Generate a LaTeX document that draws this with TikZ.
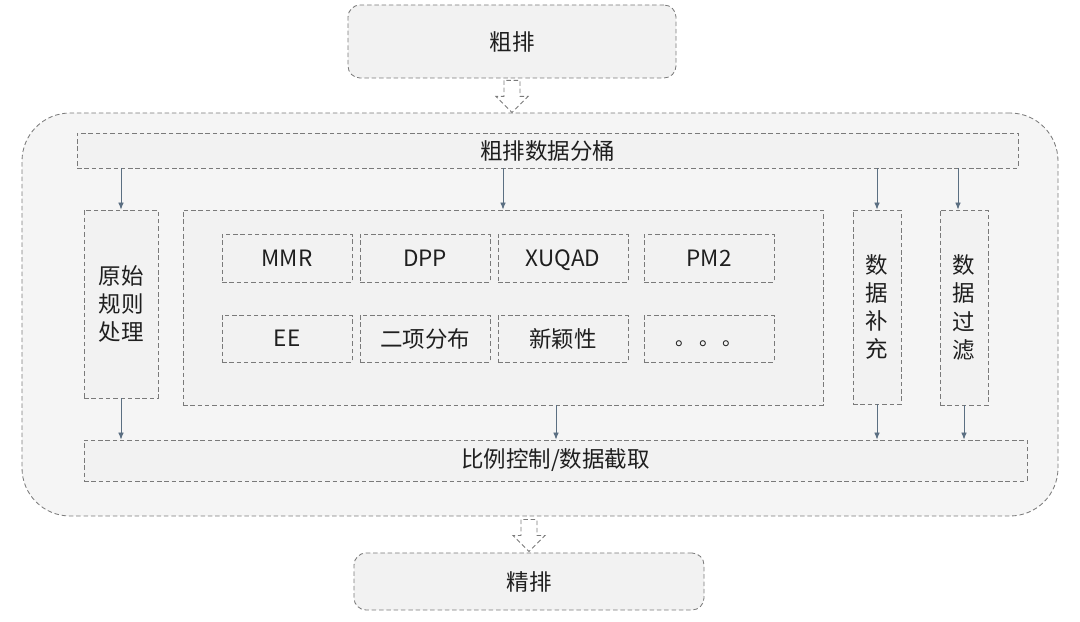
\documentclass[tikz,border=0pt]{standalone}
\usepackage{fontspec}
\setmainfont{Noto Sans CJK SC}
\usetikzlibrary{fit,calc,arrows.meta}
\definecolor{edge}{HTML}{7A7A7A}
\definecolor{boxfill}{HTML}{F2F2F2}
\definecolor{bigfill}{HTML}{F5F5F5}
\definecolor{arr}{HTML}{5B6F82}
\definecolor{txt}{HTML}{1F1F1F}
\begin{document}
\begin{tikzpicture}[x=0.025cm,y=-0.025cm,
  dline/.style={draw=edge, line width=0.6pt, dash pattern=on 3.2pt off 2pt},
  box/.style={dline, fill=boxfill, inner sep=0pt},
  lab/.style={text=txt, align=center, inner sep=0pt, font=\fontsize{16}{20}\selectfont},
  rbox/.style={box, rounded corners=0.3cm},
  conn/.style={draw=arr, line width=0.6pt, -{Latex[length=5pt,width=4pt]}},
  hollow/.style={dline, fill=white, line join=miter}]
\useasboundingbox (0,0) rectangle (1080,622);
% outer container
\node[dline, fill=bigfill, rounded corners=1.2cm, inner sep=0pt, fit={(22,113)(1058,516)}] (outer) {};
% top and bottom stages
\node[rbox, fit={(348,5)(676,78)}, label={[lab]center:粗排}] (coarse) {};
\node[rbox, fit={(354,553)(704,610)}, label={[lab]center:精排}] (fine) {};
% bars
\node[box, fit={(77,133)(1018,168)}, label={[lab]center:粗排数据分桶}] (bucket) {};
\node[box, fit={(84,440)(1027,481)}, label={[lab]center:比例控制/数据截取}] (ratio) {};
% columns
\node[box, fit={(84,210)(158,398)}, label={[lab]center:原始\\规则\\处理}] (rule) {};
\node[box, fit={(183,210)(823,405)}] (mid) {};
\node[box, fit={(853,210)(901,404)}, label={[lab]center:数\\据\\补\\充}] (supp) {};
\node[box, fit={(940,210)(988,405)}, label={[lab]center:数\\据\\过\\滤}] (filt) {};
% inner algorithms
\node[box, fit={(222,234)(352,282)}, label={[lab]center:MMR}] (mmr) {};
\node[box, fit={(360,234)(490,282)}, label={[lab]center:DPP}] (dpp) {};
\node[box, fit={(498,234)(628,282)}, label={[lab]center:\raisebox{0pt}[\height][0pt]{XUQAD}}] (xuqad) {};
\node[box, fit={(644,234)(774,282)}, label={[lab]center:PM2}] (pm2) {};
\node[box, fit={(222,315)(352,362)}, label={[lab]center:EE}] (ee) {};
\node[box, fit={(360,315)(490,362)}, label={[lab]center:二项分布}] (binom) {};
\node[box, fit={(498,315)(628,362)}, label={[lab]center:新颖性}] (novel) {};
\node[box, fit={(644,315)(774,362)}, label={[lab,font=\fontsize{14}{20}\selectfont,yshift=-4pt]center:。\hspace{0.2em}。\hspace{0.2em}。}] (more) {};
% connectors from bucket
\draw[conn] (bucket.south -| rule.north) -- (rule.north);
\draw[conn] (bucket.south -| mid.north) -- (mid.north);
\draw[conn] (bucket.south -| supp.north) -- (supp.north);
\draw[conn] ($(bucket.south -| filt.north)+(-6,0)$) -- ($(filt.north)+(-6,0)$);
% connectors to ratio
\draw[conn] (rule.south) -- (rule.south |- ratio.north);
\draw[conn] ($(mid.south)+(53,0)$) -- ($(mid.south |- ratio.north)+(53,0)$);
\draw[conn] (supp.south) -- (supp.south |- ratio.north);
\draw[conn] (filt.south) -- (filt.south |- ratio.north);
% hollow arrows
\draw[hollow] ($(coarse.south)+(-8,2)$) -- ++(0,16) -- ++(-8,0) -- ++(16,16) -- ++(16,-16) -- ++(-8,0) -- ++(0,-16) -- cycle;
\draw[hollow] ($(fine.north)+(-8,-33)$) -- ++(0,16) -- ++(-8,0) -- ++(16,16) -- ++(16,-16) -- ++(-8,0) -- ++(0,-16) -- cycle;
\end{tikzpicture}
\end{document}
